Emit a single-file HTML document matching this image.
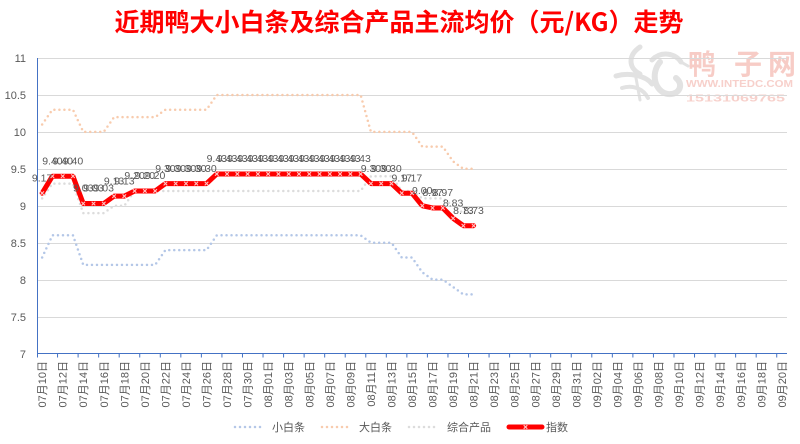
<!DOCTYPE html>
<html>
<head>
<meta charset="utf-8">
<style>
html,body{margin:0;padding:0;background:#fff;}
body{width:800px;height:444px;overflow:hidden;}
svg{display:block;}
text{font-family:"Liberation Sans","Noto Sans CJK SC",sans-serif;}
</style>
</head>
<body>
<svg width="800" height="444" viewBox="0 0 800 444" xmlns="http://www.w3.org/2000/svg">
<defs>
<path id="mk" d="M-1.8,-1.8L1.8,1.8M1.8,-1.8L-1.8,1.8" stroke="#ffc4c4" stroke-width="1.1" fill="none"/>
</defs>

<!-- title -->
<text x="399" y="31" text-anchor="middle" font-size="25" font-weight="bold" fill="#ff0000" style="font-family:'Noto Sans CJK SC','Liberation Sans',sans-serif">近期鸭大小白条及综合产品主流均价（元/KG）走势</text>

<!-- watermark -->
<g>
<g fill="none" stroke="#e2e2e2" stroke-linecap="round">
<path d="M640,47 C628,55 628,68 640,74" stroke-width="5"/>
<path d="M652,60 C662,50 676,54 681,62" stroke-width="5"/>
<path d="M681,62 L688,66" stroke-width="3"/>
<path d="M660,62 C650,74 655,92 668,94 C680,95 684,84 676,78" stroke-width="6"/>
<path d="M616,76 C630,72 646,76 652,84" stroke-width="5"/>
<path d="M622,88 C634,84 644,90 648,98" stroke-width="4"/>
<path d="M636,78 L640,100" stroke-width="3"/>
</g>
<text x="688" y="74" font-size="28" font-weight="bold" fill="#f7ccc6" style="font-family:'Noto Sans CJK SC',sans-serif">鸭</text>
<text x="734" y="74" font-size="28" font-weight="bold" fill="#f7ccc6" style="font-family:'Noto Sans CJK SC',sans-serif">子</text>
<text x="768" y="74" font-size="28" font-weight="bold" fill="#f7ccc6" style="font-family:'Noto Sans CJK SC',sans-serif">网</text>
<text x="686" y="87" font-size="10" font-weight="bold" fill="#f7d0cb" textLength="107" lengthAdjust="spacingAndGlyphs">WWW.INTEDC.COM</text>
<text x="686" y="101.5" font-size="10.5" font-weight="bold" fill="#f7d0cb" textLength="99" lengthAdjust="spacingAndGlyphs">15131069765</text>
</g>

<!-- gridlines -->
<g stroke="#d9d9d9" stroke-width="1">
<line x1="37" y1="58.5" x2="787" y2="58.5"/>
<line x1="37" y1="95.5" x2="787" y2="95.5"/>
<line x1="37" y1="132.5" x2="787" y2="132.5"/>
<line x1="37" y1="169.5" x2="787" y2="169.5"/>
<line x1="37" y1="206.5" x2="787" y2="206.5"/>
<line x1="37" y1="243.5" x2="787" y2="243.5"/>
<line x1="37" y1="280.5" x2="787" y2="280.5"/>
<line x1="37" y1="317.5" x2="787" y2="317.5"/>
</g>

<!-- y labels -->
<g font-size="11" fill="#595959" text-anchor="end">
<text x="26" y="62">11</text>
<text x="26" y="99">10.5</text>
<text x="26" y="136">10</text>
<text x="26" y="173">9.5</text>
<text x="26" y="210">9</text>
<text x="26" y="247">8.5</text>
<text x="26" y="284">8</text>
<text x="26" y="321">7.5</text>
<text x="26" y="358">7</text>
</g>

<!-- axes -->
<g stroke="#4472c4" stroke-width="1">
<line x1="37.5" y1="58" x2="37.5" y2="354"/>
<line x1="37" y1="353.5" x2="787" y2="353.5"/>
<path d="M37.5,353.5V357.5M57.55,353.5V357.5M78.1,353.5V357.5M98.64,353.5V357.5M119.19,353.5V357.5M139.74,353.5V357.5M160.29,353.5V357.5M180.84,353.5V357.5M201.38,353.5V357.5M221.93,353.5V357.5M242.48,353.5V357.5M263.03,353.5V357.5M283.58,353.5V357.5M304.12,353.5V357.5M324.67,353.5V357.5M345.22,353.5V357.5M365.77,353.5V357.5M386.32,353.5V357.5M406.86,353.5V357.5M427.41,353.5V357.5M447.96,353.5V357.5M468.51,353.5V357.5M489.06,353.5V357.5M509.6,353.5V357.5M530.15,353.5V357.5M550.7,353.5V357.5M571.25,353.5V357.5M591.8,353.5V357.5M612.34,353.5V357.5M632.89,353.5V357.5M653.44,353.5V357.5M673.99,353.5V357.5M694.54,353.5V357.5M715.08,353.5V357.5M735.63,353.5V357.5M756.18,353.5V357.5M776.73,353.5V357.5"/>
</g>

<!-- x labels -->
<g font-size="11" fill="#595959" text-anchor="end">
<text transform="translate(46.1,361) rotate(-90)">07月10日</text>
<text transform="translate(66.7,361) rotate(-90)">07月12日</text>
<text transform="translate(87.2,361) rotate(-90)">07月14日</text>
<text transform="translate(107.8,361) rotate(-90)">07月16日</text>
<text transform="translate(128.3,361) rotate(-90)">07月18日</text>
<text transform="translate(148.9,361) rotate(-90)">07月20日</text>
<text transform="translate(169.4,361) rotate(-90)">07月22日</text>
<text transform="translate(190,361) rotate(-90)">07月24日</text>
<text transform="translate(210.5,361) rotate(-90)">07月26日</text>
<text transform="translate(231.1,361) rotate(-90)">07月28日</text>
<text transform="translate(251.6,361) rotate(-90)">07月30日</text>
<text transform="translate(272.2,361) rotate(-90)">08月01日</text>
<text transform="translate(292.7,361) rotate(-90)">08月03日</text>
<text transform="translate(313.3,361) rotate(-90)">08月05日</text>
<text transform="translate(333.8,361) rotate(-90)">08月07日</text>
<text transform="translate(354.4,361) rotate(-90)">08月09日</text>
<text transform="translate(374.9,361) rotate(-90)">08月11日</text>
<text transform="translate(395.5,361) rotate(-90)">08月13日</text>
<text transform="translate(416,361) rotate(-90)">08月15日</text>
<text transform="translate(436.6,361) rotate(-90)">08月17日</text>
<text transform="translate(457.1,361) rotate(-90)">08月19日</text>
<text transform="translate(477.7,361) rotate(-90)">08月21日</text>
<text transform="translate(498.2,361) rotate(-90)">08月23日</text>
<text transform="translate(518.7,361) rotate(-90)">08月25日</text>
<text transform="translate(539.3,361) rotate(-90)">08月27日</text>
<text transform="translate(559.8,361) rotate(-90)">08月29日</text>
<text transform="translate(580.4,361) rotate(-90)">08月31日</text>
<text transform="translate(600.9,361) rotate(-90)">09月02日</text>
<text transform="translate(621.5,361) rotate(-90)">09月04日</text>
<text transform="translate(642,361) rotate(-90)">09月06日</text>
<text transform="translate(662.6,361) rotate(-90)">09月08日</text>
<text transform="translate(683.1,361) rotate(-90)">09月10日</text>
<text transform="translate(703.7,361) rotate(-90)">09月12日</text>
<text transform="translate(724.2,361) rotate(-90)">09月14日</text>
<text transform="translate(744.8,361) rotate(-90)">09月16日</text>
<text transform="translate(765.3,361) rotate(-90)">09月18日</text>
<text transform="translate(785.9,361) rotate(-90)">09月20日</text>
</g>

<!-- series: dotted -->
<g fill="none" stroke-width="2.5" stroke-linecap="round" stroke-linejoin="round" stroke-dasharray="0 5">
<polyline stroke="#b4c7e7" points="42.14,257.46 52.41,235.3 72.96,235.3 83.24,264.85 155.15,264.85 165.43,250.08 206.52,250.08 216.8,235.3 360.63,235.3 370.91,242.69 391.46,242.69 401.73,257.46 412,257.46 422.28,272.24 432.55,279.63 442.83,279.63 453.1,287.01 463.37,294.4 473.65,294.4"/>
<polyline stroke="#f8cbad" points="42.14,124.49 52.41,109.71 72.96,109.71 83.24,131.88 103.78,131.88 114.06,117.1 155.15,117.1 165.43,109.71 206.52,109.71 216.8,94.94 360.63,94.94 370.91,131.88 412,131.88 422.28,146.65 442.83,146.65 453.1,161.43 463.37,168.81 473.65,168.81"/>
<polyline stroke="#dcdcdc" points="42.14,198.36 52.41,183.59 72.96,183.59 83.24,213.14 103.78,213.14 114.06,205.75 124.33,205.75 134.61,190.98 360.63,190.98 370.91,176.2 391.46,176.2 401.73,190.98 412,190.98 422.28,198.36 442.83,198.36 453.1,205.75 463.37,213.14 473.65,213.14"/>
</g>

<!-- index line -->
<polyline fill="none" stroke="#ff0000" stroke-width="5" stroke-linejoin="round" stroke-linecap="round" points="42.14,193.2 52.41,176.2 72.96,176.2 83.24,203.53 103.78,203.53 114.06,196.15 124.33,196.15 134.61,190.98 155.15,190.98 165.43,183.59 206.52,183.59 216.8,173.98 360.63,173.98 370.91,183.59 391.46,183.59 401.73,193.2 412,193.2 422.28,205.75 432.55,207.97 442.83,207.97 453.1,218.31 463.37,225.7 473.65,225.7"/>
<g>
<use href="#mk" x="42.14" y="193.2"/><use href="#mk" x="52.41" y="176.2"/><use href="#mk" x="62.69" y="176.2"/><use href="#mk" x="72.96" y="176.2"/>
<use href="#mk" x="83.24" y="203.53"/><use href="#mk" x="93.51" y="203.53"/><use href="#mk" x="103.78" y="203.53"/>
<use href="#mk" x="114.06" y="196.15"/><use href="#mk" x="124.33" y="196.15"/>
<use href="#mk" x="134.61" y="190.98"/><use href="#mk" x="144.88" y="190.98"/><use href="#mk" x="155.15" y="190.98"/>
<use href="#mk" x="165.43" y="183.59"/><use href="#mk" x="175.7" y="183.59"/><use href="#mk" x="185.98" y="183.59"/><use href="#mk" x="196.25" y="183.59"/><use href="#mk" x="206.52" y="183.59"/>
<use href="#mk" x="216.8" y="173.98"/><use href="#mk" x="227.07" y="173.98"/><use href="#mk" x="237.35" y="173.98"/><use href="#mk" x="247.62" y="173.98"/><use href="#mk" x="257.89" y="173.98"/><use href="#mk" x="268.17" y="173.98"/><use href="#mk" x="278.44" y="173.98"/><use href="#mk" x="288.72" y="173.98"/><use href="#mk" x="298.99" y="173.98"/><use href="#mk" x="309.26" y="173.98"/><use href="#mk" x="319.54" y="173.98"/><use href="#mk" x="329.81" y="173.98"/><use href="#mk" x="340.09" y="173.98"/><use href="#mk" x="350.36" y="173.98"/><use href="#mk" x="360.63" y="173.98"/>
<use href="#mk" x="370.91" y="183.59"/><use href="#mk" x="381.18" y="183.59"/><use href="#mk" x="391.46" y="183.59"/>
<use href="#mk" x="401.73" y="193.2"/><use href="#mk" x="412" y="193.2"/>
<use href="#mk" x="422.28" y="205.75"/><use href="#mk" x="432.55" y="207.97"/><use href="#mk" x="442.83" y="207.97"/>
<use href="#mk" x="453.1" y="218.31"/><use href="#mk" x="463.37" y="225.7"/><use href="#mk" x="473.65" y="225.7"/>
</g>

<!-- data labels -->
<g font-size="10.5" fill="#595959" text-anchor="middle">
<text x="42.14" y="181.4">9.17</text>
<text x="52.41" y="164.4">9.40</text><text x="62.69" y="164.4">9.40</text><text x="72.96" y="164.4">9.40</text>
<text x="83.24" y="191.7">9.03</text><text x="93.51" y="191.7">9.03</text><text x="103.78" y="191.7">9.03</text>
<text x="114.06" y="184.35">9.13</text><text x="124.33" y="184.35">9.13</text>
<text x="134.61" y="179.2">9.20</text><text x="144.88" y="179.2">9.20</text><text x="155.15" y="179.2">9.20</text>
<text x="165.43" y="171.8">9.30</text><text x="175.7" y="171.8">9.30</text><text x="185.98" y="171.8">9.30</text><text x="196.25" y="171.8">9.30</text><text x="206.52" y="171.8">9.30</text>
<text x="216.8" y="162.2">9.43</text><text x="227.07" y="162.2">9.43</text><text x="237.35" y="162.2">9.43</text><text x="247.62" y="162.2">9.43</text><text x="257.89" y="162.2">9.43</text><text x="268.17" y="162.2">9.43</text><text x="278.44" y="162.2">9.43</text><text x="288.72" y="162.2">9.43</text><text x="298.99" y="162.2">9.43</text><text x="309.26" y="162.2">9.43</text><text x="319.54" y="162.2">9.43</text><text x="329.81" y="162.2">9.43</text><text x="340.09" y="162.2">9.43</text><text x="350.36" y="162.2">9.43</text><text x="360.63" y="162.2">9.43</text>
<text x="370.91" y="171.8">9.30</text><text x="381.18" y="171.8">9.30</text><text x="391.46" y="171.8">9.30</text>
<text x="401.73" y="181.4">9.17</text><text x="412" y="181.4">9.17</text>
<text x="422.28" y="193.95">9.00</text>
<text x="432.55" y="196.2">8.97</text><text x="442.83" y="196.2">8.97</text>
<text x="453.1" y="206.5">8.83</text>
<text x="463.37" y="213.9">8.73</text><text x="473.65" y="213.9">8.73</text>
</g>

<!-- legend -->
<g fill="none" stroke-width="2.5" stroke-linecap="round" stroke-dasharray="0 5">
<line x1="235" y1="427" x2="265" y2="427" stroke="#b4c7e7"/>
<line x1="322" y1="427" x2="352" y2="427" stroke="#f8cbad"/>
<line x1="409" y1="427" x2="439" y2="427" stroke="#dcdcdc"/>
</g>
<line x1="509" y1="427" x2="542" y2="427" stroke="#ff0000" stroke-width="5" stroke-linecap="round"/>
<use href="#mk" x="525.5" y="427"/>
<g font-size="11" fill="#595959">
<text x="272" y="431">小白条</text>
<text x="359" y="431">大白条</text>
<text x="447" y="431">综合产品</text>
<text x="546" y="431">指数</text>
</g>
</svg>
</body>
</html>
